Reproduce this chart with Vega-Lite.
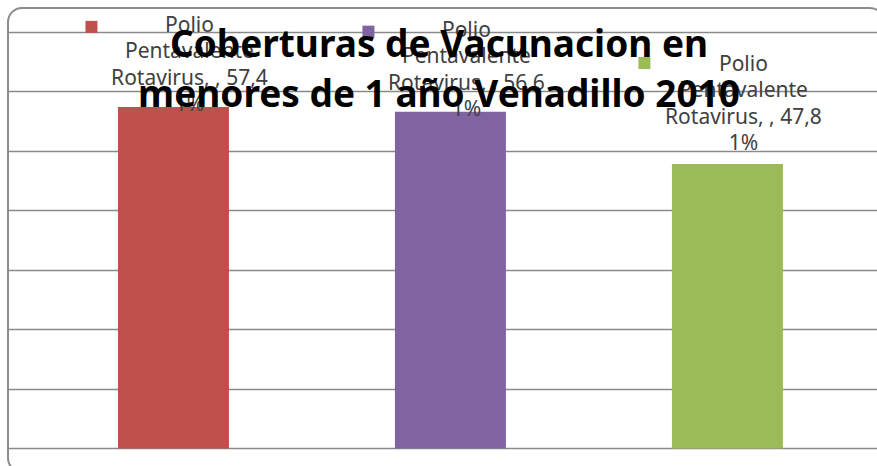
{
  "$schema": "https://vega.github.io/schema/vega-lite/v6.json",
  "width": 876,
  "height": 464,
  "autosize": "none",
  "padding": {"left": 8, "top": 8, "right": 0, "bottom": 0},
  "background": "white",
  "config": {
    "view": {"stroke": "#8c8c8c", "strokeWidth": 2, "cornerRadius": 14}
  },
  "title": {
    "text": ["Coberturas de Vacunacion en", "menores de 1 año Venadillo 2010"],
    "font": "Noto Sans",
    "fontSize": 37,
    "fontWeight": "bold",
    "color": "#000000",
    "lineHeight": 50,
    "anchor": "middle",
    "offset": -107,
    "dx": -7
  },
  "data": {
    "values": [
      {"id": "A", "serie": "Polio Pentavalente Rotavirus", "valor": 57.41, "etiqueta": "Polio\nPentavalente\nRotavirus, , 57,4\n1%"},
      {"id": "B", "serie": "Polio Pentavalente Rotavirus", "valor": 56.61, "etiqueta": "Polio\nPentavalente\nRotavirus, , 56,6\n1%"},
      {"id": "C", "serie": "Polio Pentavalente Rotavirus", "valor": 47.81, "etiqueta": "Polio\nPentavalente\nRotavirus, , 47,8\n1%"}
    ]
  },
  "encoding": {
    "x": {
      "field": "id",
      "type": "nominal",
      "scale": {"paddingInner": 0.5993, "paddingOuter": 0.381, "align": 0.521},
      "axis": null
    },
    "y": {
      "field": "valor",
      "type": "quantitative",
      "scale": {"domain": [-3.96, 74.03], "zero": false, "nice": false},
      "axis": {
        "values": [0, 10, 20, 30, 40, 50, 60, 70],
        "grid": true,
        "gridColor": "#8a8a8a",
        "gridWidth": 1.5,
        "labels": false,
        "ticks": false,
        "domain": false,
        "title": null
      }
    }
  },
  "layer": [
    {
      "mark": {"type": "bar"},
      "encoding": {
        "color": {"field": "id", "type": "nominal", "scale": {"domain": ["A", "B", "C"], "range": ["#C0504D", "#8064A2", "#9BBB59"]}, "legend": null}
      }
    },
    {
      "transform": [{"filter": "datum.id != 'C'"}],
      "mark": {"type": "square", "size": 144, "filled": true, "opacity": 1, "xOffset": -82, "yOffset": -80},
      "encoding": {
        "color": {"field": "id", "type": "nominal", "legend": null}
      }
    },
    {
      "transform": [{"filter": "datum.id == 'C'"}],
      "mark": {"type": "square", "size": 144, "filled": true, "opacity": 1, "xOffset": -83, "yOffset": -101},
      "encoding": {
        "color": {"field": "id", "type": "nominal", "legend": null}
      }
    },
    {
      "transform": [{"filter": "datum.id != 'C'"}],
      "mark": {"type": "text", "font": "Noto Sans", "fontSize": 21, "lineHeight": 26.5, "lineBreak": "\n", "align": "center", "baseline": "alphabetic", "dx": 16, "dy": -75, "color": "#404040"},
      "encoding": {"text": {"field": "etiqueta"}}
    },
    {
      "transform": [{"filter": "datum.id == 'C'"}],
      "mark": {"type": "text", "font": "Noto Sans", "fontSize": 21, "lineHeight": 26.5, "lineBreak": "\n", "align": "center", "baseline": "alphabetic", "dx": 16, "dy": -93, "color": "#404040"},
      "encoding": {"text": {"field": "etiqueta"}}
    }
  ]
}
